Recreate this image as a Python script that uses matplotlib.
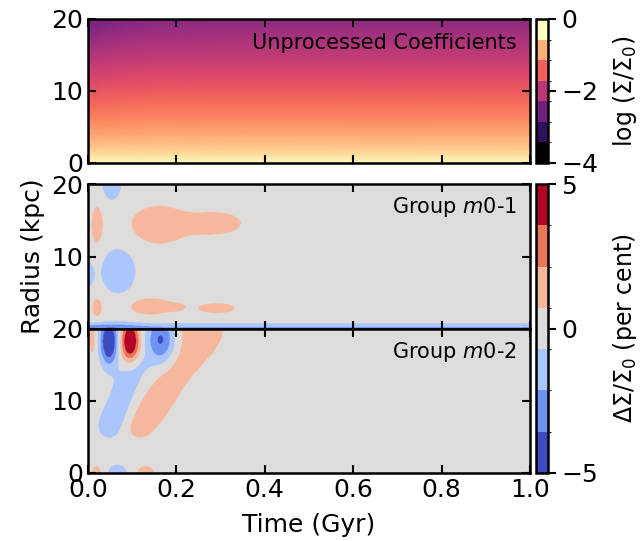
import numpy as np
import matplotlib
matplotlib.use('Agg')
import matplotlib.pyplot as plt
from matplotlib.colors import ListedColormap, BoundaryNorm
from matplotlib.cm import ScalarMappable

# log(Sigma/Sigma_0) of the unprocessed coefficients, rows = radius, columns = time
sigma_time = [0.0, 0.03, 0.08, 0.15, 0.3, 1.0]
sigma_radius = [0, 1, 2, 4, 6, 8, 10, 12, 14, 16, 18, 20]
log_sigma = [
    [-0.05, -0.05, -0.05, -0.05, -0.05, -0.05],
    [-0.25, -0.25, -0.25, -0.25, -0.25, -0.25],
    [-0.45, -0.45, -0.45, -0.45, -0.45, -0.45],
    [-0.78, -0.78, -0.76, -0.75, -0.75, -0.75],
    [-1.02, -1.02, -1.00, -1.00, -1.00, -1.00],
    [-1.25, -1.24, -1.21, -1.20, -1.20, -1.20],
    [-1.47, -1.45, -1.42, -1.40, -1.40, -1.40],
    [-1.70, -1.68, -1.63, -1.60, -1.60, -1.60],
    [-1.92, -1.90, -1.84, -1.80, -1.80, -1.80],
    [-2.15, -2.12, -2.05, -2.02, -2.00, -2.00],
    [-2.40, -2.36, -2.27, -2.23, -2.20, -2.20],
    [-2.65, -2.60, -2.50, -2.44, -2.40, -2.40],
]

# residual features (per cent) of group m0-1: time, radius, widths, amplitude
m01_t = [0.053, 0.020, 0.160, 0.290, 0.068, -0.003, 0.020, 0.140, 0.198, 0.291, 0.5, 0.05]
m01_r = [20.6, 14.3, 14.4, 14.6, 8.0, 7.5, 3.0, 3.1, 3.0, 2.85, 0.0, 0.0]
m01_dt = [0.024, 0.0156, 0.073, 0.067, 0.039, 0.018, 0.015, 0.055, 0.022, 0.054, 100.0, 0.07]
m01_dr = [3.0, 3.4, 3.0, 1.77, 3.2, 2.4, 1.9, 1.3, 0.6, 0.9, 0.7, 1.1]
m01_amp = [-1.8, 1.3, 1.5, 1.4, -1.9, -1.2, 1.2, 1.5, 0.9, 1.25, -2.4, -1.3]

# residual features (per cent) of group m0-2
m02_t = [0.047, 0.095, 0.165, 0.010,
         0.116, 0.130, 0.147, 0.166, 0.187, 0.210, 0.235, 0.250, 0.250,
         0.048, 0.059, 0.070, 0.081, 0.094, 0.108,
         0.020, 0.068, 0.127]
m02_r = [18.3, 18.3, 18.5, 18.5,
         6.0, 7.7, 9.3, 11.0, 13.0, 15.0, 17.0, 19.0, 21.0,
         6.0, 7.5, 9.1, 11.0, 13.0, 15.0,
         0.0, 0.0, 0.0]
m02_dt = [0.019, 0.020, 0.032, 0.009,
          0.036, 0.042, 0.044, 0.046, 0.048, 0.054, 0.060, 0.064, 0.068,
          0.030, 0.033, 0.035, 0.035, 0.035, 0.035,
          0.016, 0.034, 0.032]
m02_dr = [3.0, 2.7, 3.2, 2.8,
          1.6, 1.6, 1.6, 1.6, 1.6, 1.6, 1.6, 1.6, 1.6,
          1.6, 1.6, 1.6, 1.6, 1.6, 1.6,
          1.3, 1.5, 1.3]
m02_amp = [-6.0, 5.8, -4.0, 1.2,
           1.05, 1.05, 1.05, 1.05, 1.05, 1.05, 1.05, 1.05, 1.05,
           -1.05, -1.05, -1.05, -1.05, -1.05, -1.05,
           1.3, -1.25, 1.2]

sigma_levels = np.linspace(-4, 0, 8)
delta_levels = np.linspace(-5, 5, 8)
sigma_cmap = ListedColormap(plt.get_cmap('magma')(np.linspace(0, 1, 7)))
delta_cmap = ListedColormap(plt.get_cmap('coolwarm')(np.linspace(0, 1, 7)))
sigma_norm = BoundaryNorm(sigma_levels, 7)
delta_norm = BoundaryNorm(delta_levels, 7)


def residual_map(t, r, ts, rs, dts, drs, amps):
    tt, rr = np.meshgrid(t, r)
    z = np.zeros_like(tt)
    for t0, r0, dt, dr, a in zip(ts, rs, dts, drs, amps):
        z += a * np.exp(-((tt - t0) / dt) ** 2 - ((rr - r0) / dr) ** 2)
    return np.clip(z, -4.99, 4.99)


W, H = 641, 541
fig = plt.figure(figsize=(W / 100, H / 100), dpi=100)

x0, x1 = 88 / W, (530 - 88) / W
ax_top = fig.add_axes([x0, 1 - 163 / H, x1, 144 / H])
ax_mid = fig.add_axes([x0, 1 - 329 / H, x1, 145 / H])
ax_bot = fig.add_axes([x0, 1 - 473 / H, x1, 144 / H])
cax_top = fig.add_axes([536 / W, 1 - 163 / H, 12 / W, 144 / H])
cax_bot = fig.add_axes([536 / W, 1 - 473 / H, 12 / W, 289 / H])

ax_top.pcolormesh(sigma_time, sigma_radius, np.array(log_sigma), shading='gouraud',
                  cmap='magma', vmin=-4, vmax=0, rasterized=True)
ax_top.text(0.97, 0.835, 'Unprocessed Coefficients', transform=ax_top.transAxes,
            ha='right', va='center', fontsize=15)

# sample the residual fields at roughly two points per pixel
t = np.linspace(0, 1, 900)
r = np.linspace(0, 20, 300)
panels = [(ax_mid, m01_t, m01_r, m01_dt, m01_dr, m01_amp, 'Group $m$0-1'),
          (ax_bot, m02_t, m02_r, m02_dt, m02_dr, m02_amp, 'Group $m$0-2')]
for ax, ts, rs, dts, drs, amps, name in panels:
    z = residual_map(t, r, ts, rs, dts, drs, amps)
    ax.imshow(z, origin='lower', extent=[0, 1, 0, 20], aspect='auto',
              cmap=delta_cmap, norm=delta_norm, interpolation='antialiased')
    ax.text(0.97, 0.84, name, transform=ax.transAxes, ha='right', va='center', fontsize=15)

for ax in (ax_top, ax_mid, ax_bot):
    ax.set_xlim(0, 1)
    ax.set_ylim(0, 20)
    ax.set_xticks([0, 0.2, 0.4, 0.6, 0.8, 1.0])
    ax.set_yticks([0, 10, 20])
    ax.tick_params(direction='in', length=6, width=1.5, top=True, right=True, labelsize=18)
    for s in ax.spines.values():
        s.set_linewidth(1.8)
ax_top.tick_params(labelbottom=False)
ax_mid.tick_params(labelbottom=False)
ax_mid.set_yticklabels(['', '10', '20'])
ax_bot.set_xlabel('Time (Gyr)', fontsize=18, labelpad=8)
fig.text(33 / W, 1 - 256 / H, 'Radius (kpc)', rotation=90, ha='center', va='center', fontsize=18)

cb1 = fig.colorbar(ScalarMappable(norm=sigma_norm, cmap=sigma_cmap), cax=cax_top, ticks=[-4, -2, 0])
cb2 = fig.colorbar(ScalarMappable(norm=delta_norm, cmap=delta_cmap), cax=cax_bot, ticks=[-5, 0, 5])
for cb in (cb1, cb2):
    cb.ax.tick_params(length=6, width=1.5, labelsize=18)
    cb.outline.set_linewidth(1.8)
fig.text(625 / W, 1 - 91 / H, r'$\log\,(\Sigma/\Sigma_0)$', rotation=90, ha='center', va='center', fontsize=17)
fig.text(625 / W, 1 - 328 / H, r'$\Delta\Sigma/\Sigma_0$ (per cent)', rotation=90, ha='center', va='center', fontsize=17)

fig.savefig('out.png', dpi=100)
